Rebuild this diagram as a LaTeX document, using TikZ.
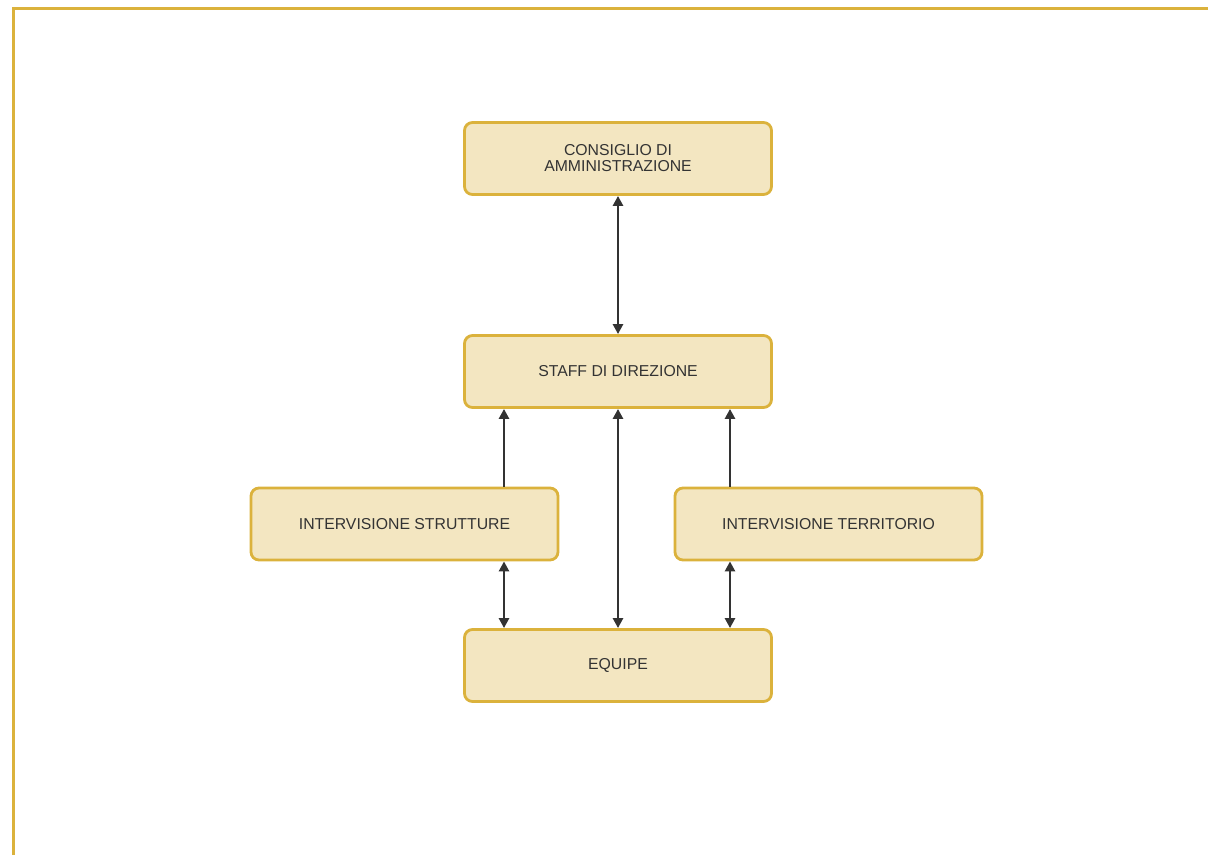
\documentclass[tikz,border=0pt]{standalone}
\usepackage{fontspec}
\setmainfont{Liberation Sans}
\usetikzlibrary{arrows.meta}
\definecolor{gold}{HTML}{DBB23C}
\definecolor{boxfill}{HTML}{F3E6C1}
\definecolor{ink}{HTML}{333333}
\begin{document}
\begin{tikzpicture}[x=1pt,y=-1pt,
  box/.style={draw=gold,fill=boxfill,line width=2.8pt,rounded corners=8pt,
    minimum width=307pt,minimum height=72pt,inner sep=0pt,align=center,
    font=\fontsize{15.8}{16}\selectfont,text=ink},
  conn/.style={draw=ink,line width=2.5pt},
  tip/.style={-{Triangle[length=10pt,width=10pt]}},
  tips/.style={{Triangle[length=10pt,width=10pt]}-{Triangle[length=10pt,width=10pt]}}]
\useasboundingbox (0,0) rectangle (1208,855);
\draw[gold,line width=3pt] (13,855) |- (1208,8);
\node[box] (cda) at (618,158.5) {CONSIGLIO DI\\AMMINISTRAZIONE};
\node[box] (staff) at (618,371.5) {STAFF DI DIREZIONE};
\node[box] (str) at (404.5,524) {INTERVISIONE STRUTTURE};
\node[box] (ter) at (828.5,524) {INTERVISIONE TERRITORIO};
\node[box] (eq) at (618,665.5) {EQUIPE};
\draw[conn,tips] (cda.south) -- (staff.north);
\draw[conn,tips] (staff.south) -- (eq.north);
\draw[conn,tip] (str.north -| 504,0) -- (staff.south -| 504,0);
\draw[conn,tip] (ter.north -| 730,0) -- (staff.south -| 730,0);
\draw[conn,tips] (str.south -| 504,0) -- (eq.north -| 504,0);
\draw[conn,tips] (ter.south -| 730,0) -- (eq.north -| 730,0);
\end{tikzpicture}
\end{document}
